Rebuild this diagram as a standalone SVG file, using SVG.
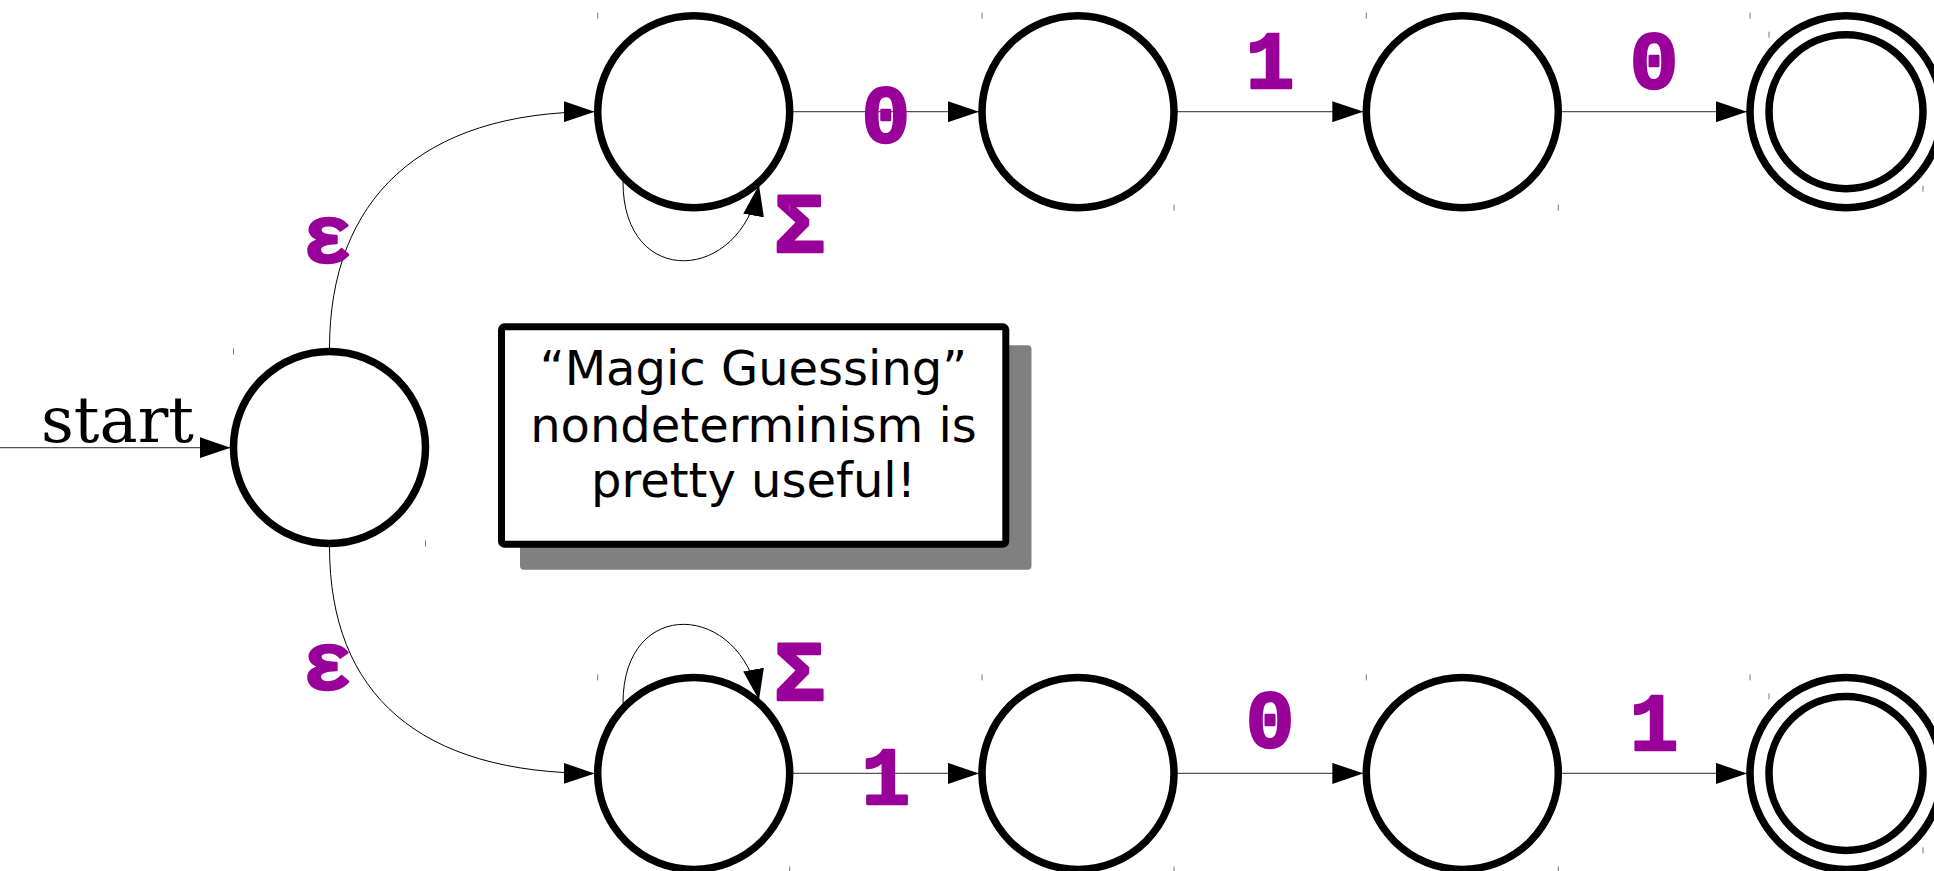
<svg xmlns="http://www.w3.org/2000/svg" width="1934" height="871" viewBox="0 0 1934 871">
<style>
.st{fill:#fff;stroke:#000;stroke-width:7.5}
.tk{stroke:#777;stroke-width:1}
.ed{fill:none;stroke:#000;stroke-width:1}
.ln{fill:none;stroke:#555;stroke-width:1.3}
.lb{font-family:"Liberation Mono",monospace;font-weight:bold;font-size:81px;fill:#990099;stroke:#990099;stroke-width:2.5;stroke-linejoin:round;text-anchor:middle}
.sg{font-size:86px}
.nt{font-family:"DejaVu Sans",sans-serif;font-size:48px;fill:#000;text-anchor:middle}
</style>
<defs>
<marker id="ah" viewBox="0 0 31 21" refX="31" refY="10.5" markerWidth="31" markerHeight="21" markerUnits="userSpaceOnUse" orient="auto">
<path d="M0,0 L31,10.5 L0,21 z" fill="#000"/>
</marker>
</defs>
<rect width="1934" height="871" fill="#fff"/>
<g id="connectors">
<line class="ln" x1="0" y1="447.7" x2="230.5" y2="447.7" marker-end="url(#ah)"/>
<path class="ed" d="M329.5,348.5 C329.5,200 420,111.7 594.7,111.7" marker-end="url(#ah)"/>
<path class="ed" d="M329.5,546.5 C329.5,695 420,773.4 594.7,773.4" marker-end="url(#ah)"/>
<path class="ed" d="M623,182 C623,290 741.5,283 759,185" marker-end="url(#ah)"/>
<path class="ed" d="M623,703.1 C623,595.1 741.5,602.1 759,700.1" marker-end="url(#ah)"/>
<line class="ln" x1="792.7" y1="111.7" x2="979" y2="111.7" marker-end="url(#ah)"/>
<line class="ln" x1="1177" y1="111.7" x2="1363.3" y2="111.7" marker-end="url(#ah)"/>
<line class="ln" x1="1561.3" y1="111.7" x2="1747" y2="111.7" marker-end="url(#ah)"/>
<line class="ln" x1="792.7" y1="773.4" x2="979" y2="773.4" marker-end="url(#ah)"/>
<line class="ln" x1="1177" y1="773.4" x2="1363.3" y2="773.4" marker-end="url(#ah)"/>
<line class="ln" x1="1561.3" y1="773.4" x2="1747" y2="773.4" marker-end="url(#ah)"/>
<text x="41" y="441.7" font-family="DejaVu Serif, serif" font-size="64">start</text>
<text class="lb" x="327.5" y="262">ε</text>
<text class="lb" x="327.5" y="689">ε</text>
<text class="lb sg" x="799.5" y="252.3">Σ</text>
<text class="lb sg" x="799.5" y="699.7">Σ</text>
<text class="lb" x="885.8" y="141.5">0</text>
<text class="lb" x="1270" y="88">1</text>
<text class="lb" x="1654" y="87.5">0</text>
<text class="lb" x="885.8" y="804">1</text>
<text class="lb" x="1270" y="747">0</text>
<text class="lb" x="1654" y="749.7">1</text>
</g>
<g id="s0"><circle class="st" cx="329.5" cy="447.5" r="96"/><line class="tk" x1="233.5" y1="348.5" x2="233.5" y2="354.5"/><line class="tk" x1="425.5" y1="540.5" x2="425.5" y2="546.5"/></g>
<g id="a1"><circle class="st" cx="693.7" cy="111.7" r="96"/><line class="tk" x1="597.7" y1="12.7" x2="597.7" y2="18.7"/><line class="tk" x1="789.7" y1="204.7" x2="789.7" y2="210.7"/></g>
<g id="a2"><circle class="st" cx="1078" cy="111.7" r="96"/><line class="tk" x1="982" y1="12.7" x2="982" y2="18.7"/><line class="tk" x1="1174" y1="204.7" x2="1174" y2="210.7"/></g>
<g id="a3"><circle class="st" cx="1462.3" cy="111.7" r="96"/><line class="tk" x1="1366.3" y1="12.7" x2="1366.3" y2="18.7"/><line class="tk" x1="1558.3" y1="204.7" x2="1558.3" y2="210.7"/></g>
<g id="a4"><circle class="st" cx="1846" cy="111.7" r="96"/><circle class="st" cx="1846" cy="111.7" r="77"/><line class="tk" x1="1750" y1="12.7" x2="1750" y2="18.7"/><line class="tk" x1="1769" y1="31.7" x2="1769" y2="37.7"/><line class="tk" x1="1923" y1="185.7" x2="1923" y2="191.7"/></g>
<g id="b1"><circle class="st" cx="693.7" cy="773.4" r="96"/><line class="tk" x1="597.7" y1="674.4" x2="597.7" y2="680.4"/><line class="tk" x1="789.7" y1="866.4" x2="789.7" y2="872.4"/></g>
<g id="b2"><circle class="st" cx="1078" cy="773.4" r="96"/><line class="tk" x1="982" y1="674.4" x2="982" y2="680.4"/><line class="tk" x1="1174" y1="866.4" x2="1174" y2="872.4"/></g>
<g id="b3"><circle class="st" cx="1462.3" cy="773.4" r="96"/><line class="tk" x1="1366.3" y1="674.4" x2="1366.3" y2="680.4"/><line class="tk" x1="1558.3" y1="866.4" x2="1558.3" y2="872.4"/></g>
<g id="b4"><circle class="st" cx="1846" cy="773.4" r="96"/><circle class="st" cx="1846" cy="773.4" r="77"/><line class="tk" x1="1750" y1="674.4" x2="1750" y2="680.4"/><line class="tk" x1="1769" y1="693.4" x2="1769" y2="699.4"/><line class="tk" x1="1923" y1="847.4" x2="1923" y2="853.4"/></g>
<g id="note">
<rect x="520" y="345.3" width="511.5" height="224.5" rx="4" fill="#808080"/>
<rect x="501.5" y="326.8" width="504.3" height="217.4" rx="3" fill="#fff" stroke="#000" stroke-width="7"/>
<text class="nt" x="753.5" y="385">“Magic Guessing”</text>
<text class="nt" x="753.5" y="441.5">nondeterminism is</text>
<text class="nt" x="753.5" y="497">pretty useful!</text>
</g>
</svg>
